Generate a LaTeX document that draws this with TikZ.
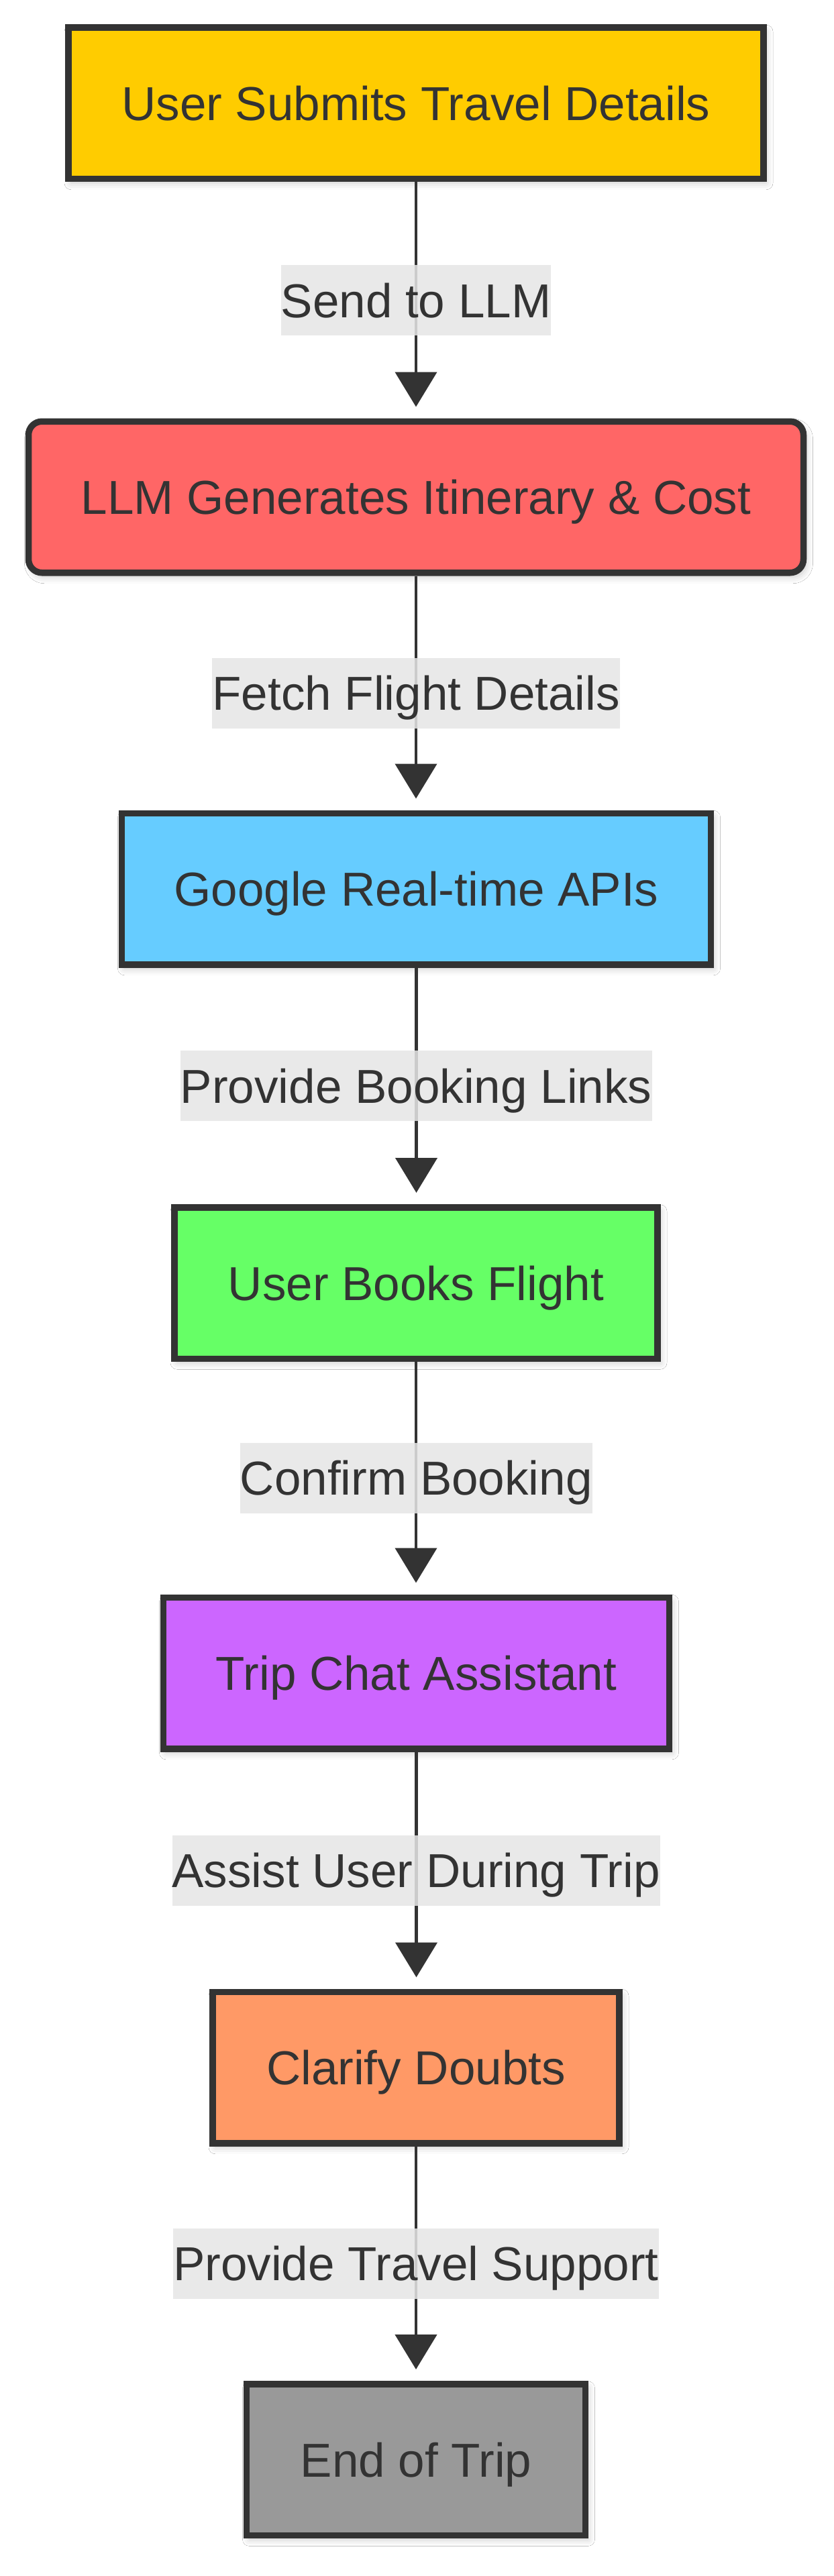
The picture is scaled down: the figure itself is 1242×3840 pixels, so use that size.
\documentclass[tikz,border=0pt]{standalone}
\usepackage{fontspec}
\setmainfont{Liberation Sans}
\usetikzlibrary{arrows.meta,calc,shadows.blur}
\definecolor{strokec}{HTML}{333333}
\definecolor{textc}{HTML}{333333}
\definecolor{lblbg}{HTML}{E6E6E6}
\definecolor{cA}{HTML}{FFCC00}
\definecolor{cB}{HTML}{FF6666}
\definecolor{cC}{HTML}{66CCFF}
\definecolor{cD}{HTML}{66FF66}
\definecolor{cE}{HTML}{CC66FF}
\definecolor{cF}{HTML}{FF9966}
\definecolor{cG}{HTML}{999999}
\begin{document}
\begin{tikzpicture}[x=1pt,y=-1pt,
  box/.style={draw=strokec, line width=9.5pt, text=textc,
    font=\fontsize{71}{80}\selectfont, minimum height=225.5pt,
    inner sep=0pt, text height=51pt, text depth=0pt,
    blur shadow={shadow xshift=4pt, shadow yshift=-6pt, shadow blur radius=10pt, shadow opacity=22}},
  lbl/.style={fill=lblbg, fill opacity=0.85, text opacity=1, text=textc,
    font=\fontsize{71}{80}\selectfont, inner xsep=0pt, inner ysep=27pt,
    text height=51pt, text depth=0pt},
  edge/.style={draw=strokec, line width=4.5pt,
    -{Triangle[length=52pt,width=62pt]}, shorten >=17pt}]
\useasboundingbox (0,0) rectangle (1242,3840);
\fill[white] (0,0) rectangle (1242,3840);

\node[box, fill=cA, minimum width=1036pt] (n1) at (620,154) {User Submits Travel Details};
\node[box, fill=cB, rounded corners=20pt, minimum width=1155pt] (n2) at (620,741) {LLM Generates Itinerary \& Cost};
\node[box, fill=cC, minimum width=878pt] (n3) at (620.5,1325) {Google Real-time APIs};
\node[box, fill=cD, minimum width=720pt] (n4) at (620,1912.5) {User Books Flight};
\node[box, fill=cE, minimum width=754pt] (n5) at (620.5,2494) {Trip Chat Assistant};
\node[box, fill=cF, minimum width=606pt] (n6) at (620,3082) {Clarify Doubts};
\node[box, fill=cG, minimum width=505pt] (n7) at (620,3666.5) {End of Trip};

\draw[edge] (n1.south) -- (n1.south |- n2.north);
\draw[edge] (n2.south) -- (n2.south |- n3.north);
\draw[edge] (n3.south) -- (n3.south |- n4.north);
\draw[edge] (n4.south) -- (n4.south |- n5.north);
\draw[edge] (n5.south) -- (n5.south |- n6.north);
\draw[edge] (n6.south) -- (n6.south |- n7.north);

\node[lbl] (l1) at ($(n1.south)!0.5!(n2.north)$) {Send to LLM};
\node[lbl] (l2) at ($(n2.south)!0.5!(n3.north)$) {Fetch Flight Details};
\node[lbl] (l3) at ($(n3.south)!0.5!(n4.north)$) {Provide Booking Links};
\node[lbl] (l4) at ($(n4.south)!0.5!(n5.north)$) {Confirm Booking};
\node[lbl] (l5) at ($(n5.south)!0.5!(n6.north)$) {Assist User During Trip};
\node[lbl] (l6) at ($(n6.south)!0.5!(n7.north)$) {Provide Travel Support};
\end{tikzpicture}
\end{document}
